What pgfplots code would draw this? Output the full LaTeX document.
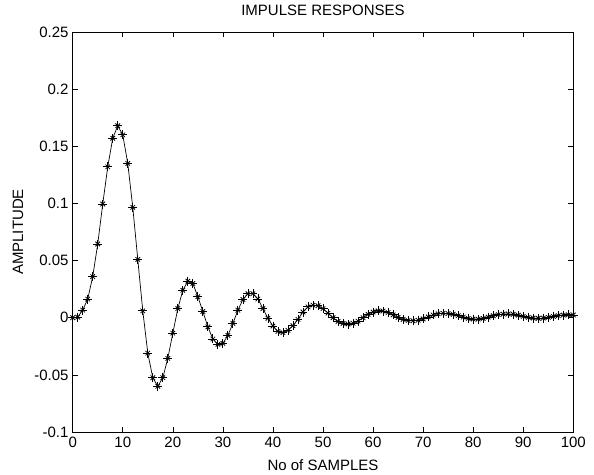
\documentclass[border=0pt]{standalone}
\usepackage{fontspec}
\setmainfont{Liberation Sans}
\usepackage{pgfplots}
\usepackage{pgfplotstable}
\pgfplotsset{compat=1.18}
\pgfplotstableread{
n y
0 0
1 0.0005
2 0.0067
3 0.0163
4 0.036
5 0.0645
6 0.0995
7 0.132
8 0.157
9 0.168
10 0.160
11 0.135
12 0.0966
13 0.051
14 0.006
15 -0.031
16 -0.0525
17 -0.060
18 -0.0525
19 -0.0356
20 -0.0135
21 0.008
22 0.024
23 0.032
24 0.030
25 0.0184
26 0.0055
27 -0.008
28 -0.0186
29 -0.0233
30 -0.0224
31 -0.0155
32 -0.005
33 0.0065
34 0.016
35 0.021
36 0.021
37 0.0164
38 0.008
39 -0.0005
40 -0.0073
41 -0.012
42 -0.013
43 -0.011
44 -0.007
45 -0.0014
46 0.005
47 0.0095
48 0.011
49 0.0105
50 0.008
51 0.004
52 0.0
53 -0.0033
54 -0.005
55 -0.0055
56 -0.0048
57 -0.003
58 0.0
59 0.003
60 0.005
61 0.006
62 0.0058
63 0.0045
64 0.0025
65 0.0003
66 -0.0015
67 -0.0025
68 -0.0027
69 -0.0022
70 -0.001
71 0.0007
72 0.0024
73 0.0035
74 0.0039
75 0.0037
76 0.003
77 0.0018
78 0.0005
79 -0.0006
80 -0.0012
81 -0.0012
82 -0.0006
83 0.0005
84 0.0017
85 0.0027
86 0.0032
87 0.0033
88 0.003
89 0.0022
90 0.0012
91 0.0003
92 -0.0003
93 -0.0005
94 -0.0003
95 0.0003
96 0.0011
97 0.0018
98 0.0023
99 0.0025
100 0.0024
}\resp
\begin{document}
\fontsize{15}{17}\selectfont
\begin{tikzpicture}
\path[use as bounding box] (-72.7pt,-42pt) rectangle (521.3pt,432pt);
\begin{axis}[
  at={(0pt,0pt)}, anchor=south west,
  scale only axis, width=500.6pt, height=400pt,
  xmin=0, xmax=100, ymin=-0.1, ymax=0.25,
  xtick={0,10,20,30,40,50,60,70,80,90,100},
  xticklabels={0,10,20,30,40,50,60,70,80,90,100},
  ytick={-0.1,-0.05,0,0.05,0.1,0.15,0.2,0.25},
  yticklabels={-0.1,-0.05,0,0.05,0.1,0.15,0.2,0.25},
  tick align=inside, tick pos=both, major tick length=5pt,
  tick style={black, line width=0.6pt},
  axis line style={black, line width=0.8pt},
  ticklabel style={font=\fontsize{15}{17}\selectfont},
  yticklabel style={xshift=1pt},
  /pgf/number format/assume math mode=true,
  title={IMPULSE RESPONSES},
  title style={at={(0.5,1.04)}, anchor=center, font=\fontsize{15}{17}\selectfont},
  xlabel={No of SAMPLES},
  xlabel style={at={(0.5,-0.0825)}, anchor=center, font=\fontsize{15}{17}\selectfont},
  ylabel={AMPLITUDE},
  ylabel style={at={(-0.1093,0.5)}, anchor=center, font=\fontsize{15}{17}\selectfont},
  clip=false,
]
\addplot[black, line width=0.7pt, no marks] table[x=n,y=y] {\resp};
\addplot[black, only marks, mark=+, mark size=4.5pt, mark options={line width=0.8pt}] table[x=n,y=y] {\resp};
\addplot[black, only marks, mark=x, mark size=3.2pt, mark options={line width=0.8pt}] table[x=n,y=y] {\resp};
\end{axis}
\end{tikzpicture}
\end{document}
